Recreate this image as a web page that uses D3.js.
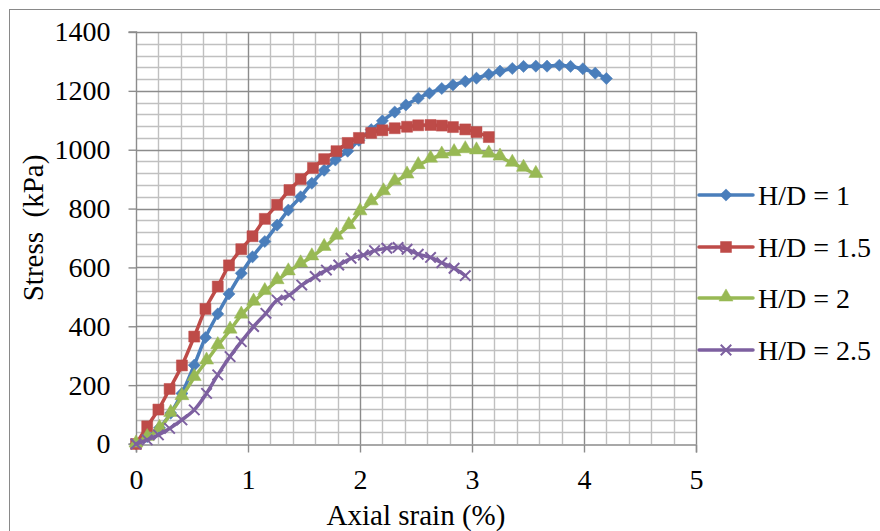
<!DOCTYPE html>
<html>
<head>
<meta charset="utf-8">
<script src="https://cdn.jsdelivr.net/npm/d3@7"></script>
<style>
  body { margin: 0; background: #fff; }
  text { font-family: "Liberation Serif", "Times New Roman", serif; fill: #000; }
</style>
</head>
<body>
<svg id="chart" width="880" height="531"></svg>
<script>
// Axial strain (%) and stress (kPa) for each height/diameter ratio
const strainHD1 = [0, 0.1, 0.21, 0.31, 0.41, 0.52, 0.62, 0.73, 0.83, 0.94, 1.04, 1.15, 1.26, 1.36, 1.47, 1.57, 1.68, 1.78, 1.89, 1.99, 2.1, 2.2, 2.31, 2.41, 2.52, 2.62, 2.73, 2.83, 2.94, 3.04, 3.15, 3.25, 3.36, 3.46, 3.57, 3.67, 3.78, 3.88, 3.99, 4.1, 4.2];
const stressHD1 = [0, 25, 55, 105, 172, 268, 362, 442, 510, 580, 636, 688, 744, 795, 840, 886, 930, 965, 995, 1032, 1068, 1098, 1128, 1152, 1175, 1192, 1208, 1220, 1232, 1243, 1256, 1267, 1276, 1283, 1284, 1284, 1287, 1283, 1275, 1260, 1242];

const strainHD15 = [0, 0.1, 0.2, 0.3, 0.41, 0.52, 0.62, 0.73, 0.83, 0.94, 1.04, 1.15, 1.26, 1.37, 1.47, 1.58, 1.68, 1.79, 1.89, 1.99, 2.1, 2.2, 2.31, 2.42, 2.52, 2.63, 2.73, 2.83, 2.94, 3.04, 3.15];
const stressHD15 = [0, 60, 117, 187, 267, 365, 459, 535, 607, 662, 706, 765, 813, 863, 900, 938, 968, 995, 1023, 1040, 1057, 1066, 1073, 1078, 1083, 1084, 1082, 1077, 1069, 1060, 1043];

const strainHD2 = [0, 0.1, 0.21, 0.31, 0.41, 0.52, 0.63, 0.73, 0.84, 0.94, 1.05, 1.15, 1.26, 1.36, 1.47, 1.57, 1.68, 1.79, 1.9, 2.0, 2.1, 2.21, 2.31, 2.42, 2.52, 2.63, 2.73, 2.84, 2.94, 3.04, 3.15, 3.25, 3.36, 3.46, 3.57];
const stressHD2 = [0, 22, 53, 104, 161, 226, 282, 334, 387, 438, 482, 518, 555, 585, 612, 636, 668, 706, 742, 789, 823, 857, 891, 914, 946, 968, 982, 990, 1000, 996, 985, 975, 954, 937, 916];

const strainHD25 = [0, 0.1, 0.2, 0.3, 0.41, 0.52, 0.63, 0.73, 0.84, 0.94, 1.05, 1.16, 1.26, 1.37, 1.48, 1.6, 1.7, 1.81, 1.92, 2.03, 2.13, 2.24, 2.34, 2.42, 2.52, 2.63, 2.73, 2.84, 2.94];
const stressHD25 = [0, 14, 31, 53, 82, 116, 172, 235, 297, 348, 399, 444, 489, 506, 540, 569, 591, 608, 631, 642, 657, 665, 668, 662, 645, 634, 616, 597, 572];

const seriesNames = ["H/D = 1", "H/D = 1.5", "H/D = 2", "H/D = 2.5"];
const seriesColors = ["#4A7EBB", "#BE4B48", "#98B954", "#7D60A0"];
const xTicks = [0, 1, 2, 3, 4, 5];
const yTicks = [0, 200, 400, 600, 800, 1000, 1200, 1400];
const xTitle = "Axial srain (%)";
const yTitle = "Stress  (kPa)";

const series = [
  { name: seriesNames[0], color: seriesColors[0], marker: "diamond", x: strainHD1, y: stressHD1 },
  { name: seriesNames[1], color: seriesColors[1], marker: "square", x: strainHD15, y: stressHD15 },
  { name: seriesNames[2], color: seriesColors[2], marker: "triangle", x: strainHD2, y: stressHD2 },
  { name: seriesNames[3], color: seriesColors[3], marker: "cross", x: strainHD25, y: stressHD25 }
];

const svg = d3.select("#chart");
const plot = { left: 136, right: 696, top: 32, bottom: 444 };

const x = d3.scaleLinear().domain([0, 5]).range([plot.left, plot.right]);
const y = d3.scaleLinear().domain([0, 1400]).range([plot.bottom, plot.top]);

// chart border
svg.append("rect")
  .attr("x", 9.5).attr("y", 9.5).attr("width", 880).attr("height", 540)
  .attr("fill", "#fff").attr("stroke", "#898989").attr("stroke-width", 1);

// gridlines: minor first, then major
const grid = svg.append("g");
const minorX = d3.range(0, 5.0001, 0.2).filter(v => Math.abs(v - Math.round(v)) > 1e-6);
const minorY = d3.range(0, 1400.001, 40).filter(v => v % 200 !== 0);
grid.selectAll("line.mx").data(minorX).join("line")
  .attr("x1", d => Math.round(x(d)) + 0.5).attr("x2", d => Math.round(x(d)) + 0.5)
  .attr("y1", plot.top).attr("y2", plot.bottom)
  .attr("stroke", "#C0C0C0").attr("stroke-width", 1.4);
grid.selectAll("line.my").data(minorY).join("line")
  .attr("y1", d => Math.round(y(d)) + 0.5).attr("y2", d => Math.round(y(d)) + 0.5)
  .attr("x1", plot.left).attr("x2", plot.right)
  .attr("stroke", "#C0C0C0").attr("stroke-width", 1.4);
grid.selectAll("line.Mx").data(xTicks.slice(1)).join("line")
  .attr("x1", d => Math.round(x(d)) + 0.5).attr("x2", d => Math.round(x(d)) + 0.5)
  .attr("y1", plot.top).attr("y2", plot.bottom)
  .attr("stroke", "#8C8C8C").attr("stroke-width", 1.4);
grid.selectAll("line.My").data(yTicks.slice(1)).join("line")
  .attr("y1", d => Math.round(y(d)) + 0.5).attr("y2", d => Math.round(y(d)) + 0.5)
  .attr("x1", plot.left).attr("x2", plot.right)
  .attr("stroke", "#8C8C8C").attr("stroke-width", 1.4);

// axes
const xAxis = d3.axisBottom(x).tickValues(xTicks).tickFormat(d3.format("d")).tickSize(8).tickPadding(17);
const yAxis = d3.axisLeft(y).tickValues(yTicks).tickFormat(d3.format("d")).tickSize(8).tickPadding(18);

const gx = svg.append("g").attr("transform", `translate(0,${plot.bottom + 0.5})`).call(xAxis);
const gy = svg.append("g").attr("transform", `translate(${plot.left + 0.5},0)`).call(yAxis);
[gx, gy].forEach(g => {
  g.select(".domain").attr("stroke", "#8C8C8C").attr("stroke-width", 1.4);
  g.selectAll(".tick line").attr("stroke", "#8C8C8C").attr("stroke-width", 1.4);
  g.selectAll(".tick text").attr("font-family", "Liberation Serif").attr("font-size", 28).attr("fill", "#000");
});
gy.select(".domain").attr("d", `M-8,${plot.bottom}H0V${plot.top}H-8`);
gx.selectAll(".tick text").attr("dy", "0.71em");

// axis titles
svg.append("text")
  .attr("x", 416).attr("y", 525)
  .attr("text-anchor", "middle").attr("font-size", 29)
  .text(xTitle);
svg.append("text")
  .attr("transform", "translate(43,228) rotate(-90)")
  .attr("text-anchor", "middle").attr("font-size", 29)
  .style("white-space", "pre")
  .text(yTitle);

// marker shapes
const crossSymbol = {
  draw(ctx, size) {
    const r = Math.sqrt(size) / 2;
    ctx.moveTo(-r, -r); ctx.lineTo(r, r);
    ctx.moveTo(-r, r); ctx.lineTo(r, -r);
  }
};
function markerPath(type) {
  if (type === "diamond") return d3.symbol(d3.symbolSquare, 74)();
  if (type === "square") return d3.symbol(d3.symbolSquare, 121)();
  if (type === "triangle") return d3.symbol(d3.symbolTriangle, 85)();
  return d3.symbol(crossSymbol, 110)();
}
function drawMarker(sel, s) {
  const p = sel.append("path").attr("d", markerPath(s.marker));
  if (s.marker === "cross") {
    p.attr("fill", "none").attr("stroke", s.color).attr("stroke-width", 2);
  } else {
    p.attr("fill", s.color).attr("stroke", s.color).attr("stroke-width", 0.5);
  }
  if (s.marker === "diamond") p.attr("transform", "rotate(45)");
  if (s.marker === "triangle") p.attr("transform", "translate(0,-1)");
  return p;
}

const line = d3.line().curve(d3.curveCatmullRom.alpha(0.5))
  .x(d => x(d[0])).y(d => y(d[1]));

const gSeries = svg.append("g");
series.forEach(s => {
  const pts = s.x.map((v, i) => [v, s.y[i]]);
  const g = gSeries.append("g");
  g.append("path").datum(pts)
    .attr("d", line).attr("fill", "none")
    .attr("stroke", s.color).attr("stroke-width", 3.5)
    .attr("stroke-linejoin", "round").attr("stroke-linecap", "round");
  g.selectAll("g.m").data(pts).join("g")
    .attr("transform", d => `translate(${x(d[0])},${y(d[1])})`)
    .each(function () { drawMarker(d3.select(this), s); });
});

// legend
const legend = svg.append("g");
const legendY = [195, 247, 298, 350];
series.forEach((s, i) => {
  const g = legend.append("g").attr("transform", `translate(0,${legendY[i]})`);
  g.append("line").attr("x1", 699).attr("x2", 753).attr("y1", 0).attr("y2", 0)
    .attr("stroke", s.color).attr("stroke-width", 3.5).attr("stroke-linecap", "round");
  const m = g.append("g").attr("transform", "translate(726,0)");
  drawMarker(m, s);
  g.append("text").attr("x", 758).attr("y", 0).attr("dy", "0.35em")
    .attr("font-size", 28).text(s.name);
});
</script>
</body>
</html>
